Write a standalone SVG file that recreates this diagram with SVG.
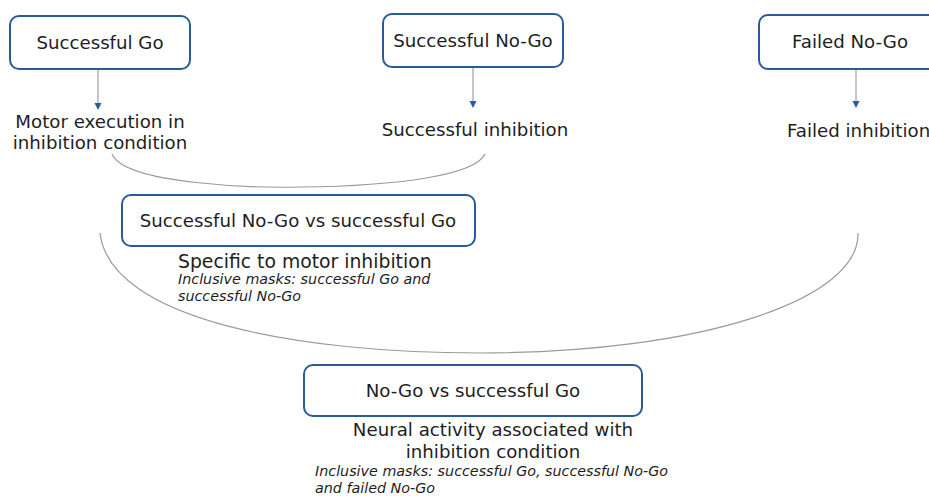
<svg xmlns="http://www.w3.org/2000/svg" width="929" height="496" viewBox="0 0 929 496">
<defs>
<style>
.box{fill:#fff;stroke:#2b5b97;stroke-width:2}
.t{font-family:"DejaVu Sans",Verdana,sans-serif;font-size:18.2px;fill:#1e1e1e}
.m{text-anchor:middle}
.i{font-family:"DejaVu Sans",Verdana,sans-serif;font-size:14.3px;font-style:italic;fill:#1e1e1e}
.arr{stroke:#8a8a9a;stroke-width:1;fill:none}
.cur{stroke:#9a9a9a;stroke-width:1.2;fill:none}
</style>
</defs>
<rect width="929" height="496" fill="#fff"/>
<g id="connectors">
<line class="arr" x1="98" y1="70" x2="98" y2="104"/>
<path d="M94.5,103 L101.5,103 L98,110 Z" fill="#2b5b97"/>
<line class="arr" x1="473" y1="68" x2="473" y2="102"/>
<path d="M469.5,101 L476.5,101 L473,108 Z" fill="#2b5b97"/>
<line class="arr" x1="856" y1="70" x2="856" y2="102"/>
<path d="M852.5,101 L859.5,101 L856,108 Z" fill="#2b5b97"/>
<path class="cur" d="M112,154 C125,185 260,188 300,187 C400,186 475,175 485,154"/>
<path class="cur" d="M100,233 C110,320 300,353 480,353 C700,353 860,300 858,233"/>
</g>
<g id="n1">
<rect class="box" x="10" y="16" width="180" height="53" rx="9"/>
<text class="t m" x="100" y="49">Successful Go</text>
</g>
<g id="n2">
<rect class="box" x="383" y="14" width="180" height="53" rx="9"/>
<text class="t m" x="473" y="47">Successful No-Go</text>
</g>
<g id="n3">
<rect class="box" x="759" y="15" width="180" height="54" rx="9"/>
<text class="t m" x="850" y="48">Failed No-Go</text>
</g>
<g id="n4">
<text class="t m" x="100" y="128">Motor execution in</text>
<text class="t m" x="100" y="149">inhibition condition</text>
</g>
<g id="n5">
<text class="t m" x="475" y="136">Successful inhibition</text>
</g>
<g id="n6">
<text class="t" x="787" y="137">Failed inhibition</text>
</g>
<g id="n7">
<rect class="box" x="122" y="195" width="353" height="51" rx="9"/>
<text class="t m" x="298" y="227">Successful No-Go vs successful Go</text>
<text class="t" x="178" y="268" style="font-size:18.8px">Specific to motor inhibition</text>
<text class="i" x="178" y="284">Inclusive masks: successful Go and</text>
<text class="i" x="178" y="301">successful No-Go</text>
</g>
<g id="n8">
<rect class="box" x="304" y="365" width="338" height="51" rx="9"/>
<text class="t m" x="473" y="397">No-Go vs successful Go</text>
<text class="t m" x="493" y="436">Neural activity associated with</text>
<text class="t m" x="493" y="458">inhibition condition</text>
<text class="i" x="315" y="476">Inclusive masks: successful Go, successful No-Go</text>
<text class="i" x="315" y="493">and failed No-Go</text>
</g>
</svg>
